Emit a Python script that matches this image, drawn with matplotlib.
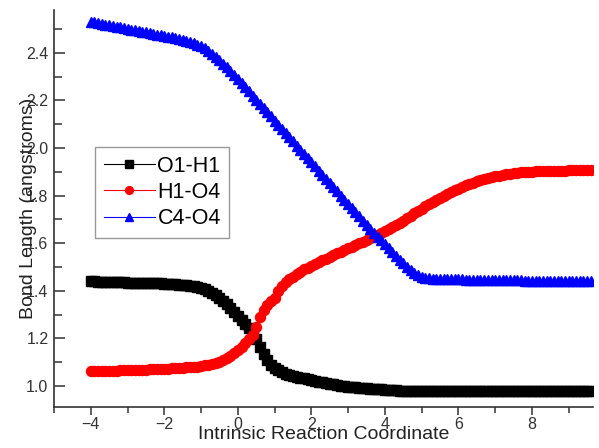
import matplotlib
matplotlib.use("Agg")
import matplotlib.pyplot as plt
from matplotlib.ticker import MultipleLocator, FormatStrFormatter

plt.rcParams['font.family'] = ['Liberation Sans', 'DejaVu Sans']

# intrinsic reaction coordinate (step 0.1)
irc = [-4.0, -3.9, -3.8, -3.7, -3.6, -3.5, -3.4, -3.3, -3.2, -3.1,
       -3.0, -2.9, -2.8, -2.7, -2.6, -2.5, -2.4, -2.3, -2.2, -2.1,
       -2.0, -1.9, -1.8, -1.7, -1.6, -1.5, -1.4, -1.3, -1.2, -1.1,
       -1.0, -0.9, -0.8, -0.7, -0.6, -0.5, -0.4, -0.3, -0.2, -0.1,
       0.0, 0.1, 0.2, 0.3, 0.4, 0.5, 0.6, 0.7, 0.8, 0.9,
       1.0, 1.1, 1.2, 1.3, 1.4, 1.5, 1.6, 1.7, 1.8, 1.9,
       2.0, 2.1, 2.2, 2.3, 2.4, 2.5, 2.6, 2.7, 2.8, 2.9,
       3.0, 3.1, 3.2, 3.3, 3.4, 3.5, 3.6, 3.7, 3.8, 3.9,
       4.0, 4.1, 4.2, 4.3, 4.4, 4.5, 4.6, 4.7, 4.8, 4.9,
       5.0, 5.1, 5.2, 5.3, 5.4, 5.5, 5.6, 5.7, 5.8, 5.9,
       6.0, 6.1, 6.2, 6.3, 6.4, 6.5, 6.6, 6.7, 6.8, 6.9,
       7.0, 7.1, 7.2, 7.3, 7.4, 7.5, 7.6, 7.7, 7.8, 7.9,
       8.0, 8.1, 8.2, 8.3, 8.4, 8.5, 8.6, 8.7, 8.8, 8.9,
       9.0, 9.1, 9.2, 9.3, 9.4, 9.5, 9.6]

o1_h1 = [1.440, 1.440, 1.439, 1.439, 1.438, 1.438, 1.437, 1.437, 1.436, 1.436,
         1.435, 1.435, 1.434, 1.434, 1.433, 1.433, 1.432, 1.432, 1.431, 1.431,
         1.430, 1.429, 1.428, 1.427, 1.426, 1.425, 1.423, 1.421, 1.419, 1.416,
         1.412, 1.407, 1.400, 1.392, 1.383, 1.371, 1.358, 1.343, 1.327, 1.311,
         1.295, 1.279, 1.262, 1.243, 1.222, 1.196, 1.165, 1.135, 1.110, 1.090,
         1.075, 1.066, 1.058, 1.052, 1.046, 1.042, 1.038, 1.035, 1.032, 1.028,
         1.025, 1.022, 1.019, 1.016, 1.013, 1.010, 1.007, 1.004, 1.002, 1.000,
         0.998, 0.996, 0.995, 0.993, 0.992, 0.990, 0.989, 0.988, 0.987, 0.986,
         0.985, 0.984, 0.983, 0.982, 0.981, 0.980, 0.980, 0.979, 0.979, 0.979,
         0.979, 0.979, 0.979, 0.979, 0.979, 0.979, 0.979, 0.979, 0.979, 0.979,
         0.979, 0.979, 0.979, 0.979, 0.979, 0.979, 0.979, 0.979, 0.979, 0.979,
         0.979, 0.979, 0.979, 0.979, 0.979, 0.979, 0.979, 0.979, 0.979, 0.979,
         0.979, 0.979, 0.979, 0.979, 0.979, 0.979, 0.979, 0.979, 0.979, 0.979,
         0.979, 0.979, 0.979, 0.979, 0.979, 0.979, 0.979]

h1_o4 = [1.062, 1.062, 1.063, 1.063, 1.064, 1.064, 1.065, 1.065, 1.066, 1.066,
         1.067, 1.067, 1.068, 1.068, 1.069, 1.069, 1.070, 1.070, 1.071, 1.072,
         1.073, 1.073, 1.074, 1.075, 1.076, 1.077, 1.078, 1.079, 1.080, 1.082,
         1.084, 1.087, 1.090, 1.093, 1.097, 1.102, 1.108, 1.117, 1.128, 1.138,
         1.150, 1.164, 1.180, 1.196, 1.215, 1.250, 1.290, 1.318, 1.340, 1.356,
         1.370, 1.398, 1.420, 1.437, 1.450, 1.460, 1.470, 1.480, 1.490, 1.498,
         1.505, 1.513, 1.520, 1.528, 1.535, 1.543, 1.550, 1.558, 1.565, 1.572,
         1.578, 1.585, 1.592, 1.599, 1.606, 1.613, 1.620, 1.628, 1.636, 1.644,
         1.652, 1.660, 1.668, 1.676, 1.685, 1.695, 1.705, 1.715, 1.725, 1.735,
         1.745, 1.755, 1.765, 1.774, 1.783, 1.792, 1.800, 1.808, 1.815, 1.823,
         1.830, 1.837, 1.843, 1.849, 1.855, 1.860, 1.865, 1.870, 1.874, 1.878,
         1.881, 1.884, 1.887, 1.890, 1.892, 1.894, 1.896, 1.898, 1.899, 1.900,
         1.901, 1.902, 1.903, 1.903, 1.904, 1.904, 1.905, 1.905, 1.905, 1.905,
         1.906, 1.906, 1.906, 1.906, 1.906, 1.906, 1.906]

c4_o4 = [2.530, 2.528, 2.525, 2.522, 2.519, 2.516, 2.513, 2.510, 2.507, 2.504,
         2.501, 2.498, 2.495, 2.492, 2.489, 2.486, 2.483, 2.480, 2.477, 2.474,
         2.471, 2.468, 2.465, 2.462, 2.458, 2.454, 2.450, 2.446, 2.441, 2.435,
         2.428, 2.419, 2.408, 2.396, 2.383, 2.369, 2.355, 2.340, 2.325, 2.308,
         2.290, 2.273, 2.255, 2.238, 2.220, 2.203, 2.185, 2.168, 2.150, 2.133,
         2.115, 2.098, 2.080, 2.063, 2.045, 2.028, 2.010, 1.993, 1.975, 1.958,
         1.940, 1.923, 1.905, 1.888, 1.870, 1.853, 1.835, 1.818, 1.800, 1.783,
         1.765, 1.748, 1.730, 1.713, 1.695, 1.678, 1.660, 1.644, 1.628, 1.612,
         1.595, 1.578, 1.562, 1.546, 1.530, 1.515, 1.500, 1.487, 1.475, 1.466,
         1.460, 1.456, 1.453, 1.451, 1.450, 1.450, 1.449, 1.449, 1.448, 1.448,
         1.448, 1.448, 1.447, 1.447, 1.447, 1.447, 1.446, 1.446, 1.446, 1.446,
         1.445, 1.445, 1.445, 1.445, 1.444, 1.444, 1.444, 1.444, 1.443, 1.443,
         1.443, 1.443, 1.442, 1.442, 1.442, 1.442, 1.442, 1.442, 1.441, 1.441,
         1.441, 1.441, 1.440, 1.440, 1.440, 1.440, 1.440]

fig = plt.figure(figsize=(5.99, 4.48), dpi=100)
ax = fig.add_axes([54/599, 41/448, 539/599, 397/448])

ax.plot(irc, o1_h1, color='black', marker='s', ms=6.5, lw=1, label='O1-H1')
ax.plot(irc, h1_o4, color='red', marker='o', ms=7.2, lw=1, label='H1-O4')
ax.plot(irc, c4_o4, color='blue', marker='^', ms=7.5, lw=1, label='C4-O4')

ax.set_xlim(-5, 9.66)
ax.set_ylim(0.912, 2.58)
ax.xaxis.set_major_locator(MultipleLocator(2))
ax.xaxis.set_minor_locator(MultipleLocator(1))
ax.yaxis.set_major_locator(MultipleLocator(0.2))
ax.yaxis.set_minor_locator(MultipleLocator(0.1))
ax.yaxis.set_major_formatter(FormatStrFormatter('%.1f'))

ax.spines['top'].set_visible(False)
ax.spines['right'].set_visible(False)
for s in ['left', 'bottom']:
    ax.spines[s].set_color('#333333')
    ax.spines[s].set_linewidth(1.2)

ax.tick_params(axis='x', which='major', direction='out', length=6, width=1.1,
               colors='#333333', labelsize=11.5, pad=1)
ax.tick_params(axis='x', which='minor', direction='out', length=4, width=1.1,
               colors='#333333')
ax.tick_params(axis='y', which='major', direction='in', length=8, width=1.1,
               colors='#333333', labelsize=11.5, pad=4)
ax.tick_params(axis='y', which='minor', direction='in', length=6, width=1.1,
               colors='#333333')

ax.set_xlabel('Intrinsic Reaction Coordinate', fontsize=14, labelpad=-4,
              color='#222222')
ax.set_ylabel('Bond Length (angstroms)', fontsize=14, labelpad=-8,
              color='#222222')

leg = ax.legend(loc='upper left', bbox_to_anchor=(41/539, (397-137)/397),
                borderaxespad=0, fontsize=15.5, handlelength=2.4,
                fancybox=False, framealpha=1, edgecolor='#999999',
                markerscale=0.78, handletextpad=0.1, labelspacing=0.25,
                borderpad=0.4)
leg.get_frame().set_linewidth(1)
for h in leg.get_lines():
    h.set_linewidth(0.8)

fig.savefig('out.png', dpi=100)
